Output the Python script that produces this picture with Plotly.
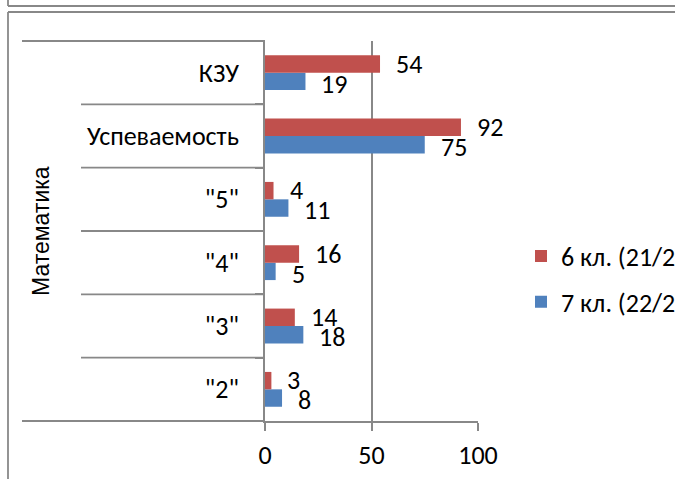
import plotly.graph_objects as go

categories = ['"2"', '"3"', '"4"', '"5"', 'Успеваемость', 'КЗУ']
group_label = 'Математика'
series_names = ['7 кл. (22/23)', '6 кл. (21/22)']
values_7 = [8, 18, 5, 11, 75, 19]
values_6 = [3, 14, 16, 4, 92, 54]
x_ticks = [0, 50, 100]

colors = {'7': '#4F81BD', '6': '#C0504D'}
FONT = 'Carlito, Lato, sans-serif'
FSIZE = 26
GRAY = '#888888'
LW = 1.8

W, H = 675, 479
L, R, T, B = 265, 478, 41, 421


def px(xp):
    return (xp - L) / (R - L)


def py(yp):
    return (B - yp) / (B - T)


fig = go.Figure()
fig.add_trace(go.Bar(y=categories, x=values_7, orientation='h', name=series_names[0],
                     marker=dict(color=colors['7'], line=dict(width=0)),
                     legendgroup='b', legendrank=2))
fig.add_trace(go.Bar(y=categories, x=values_6, orientation='h', name=series_names[1],
                     marker=dict(color=colors['6'], line=dict(width=0)),
                     legendgroup='a', legendrank=1))

lab_font = dict(family=FONT, size=FSIZE, color='black')
ann = []
for c, v in zip(categories, values_6):
    ann.append(dict(x=v, y=c, xref='x', yref='y', text=str(v), showarrow=False,
                    xanchor='left', yanchor='middle', xshift=14, yshift=9, font=lab_font))
for c, v in zip(categories, values_7):
    ann.append(dict(x=v, y=c, xref='x', yref='y', text=str(v), showarrow=False,
                    xanchor='left', yanchor='middle', xshift=14, yshift=-11, font=lab_font))
ann.append(dict(x=px(41), y=0.5, xref='paper', yref='paper', text=group_label,
                showarrow=False, textangle=-90, xanchor='center', yanchor='middle',
                font=dict(family='Liberation Sans, Arial, sans-serif', size=23, color='black')))

line = dict(color=GRAY, width=LW)
shapes = [
    # outer frames
    dict(type='line', xref='paper', yref='paper', x0=px(8), x1=px(W + 5), y0=py(6), y1=py(6), line=line),
    dict(type='line', xref='paper', yref='paper', x0=px(8), x1=px(8), y0=py(-5), y1=py(6), line=line),
    dict(type='line', xref='paper', yref='paper', x0=px(8), x1=px(W + 5), y0=py(12), y1=py(12), line=line),
    dict(type='line', xref='paper', yref='paper', x0=px(8), x1=px(8), y0=py(12), y1=py(H + 5), line=line),
    # category frame
    dict(type='line', xref='paper', yref='paper', x0=px(22), x1=0, y0=1, y1=1, line=line),
    dict(type='line', xref='paper', yref='paper', x0=px(22), x1=0, y0=0, y1=0, line=line),
]
for i in range(len(categories) - 1):
    shapes.append(dict(type='line', xref='paper', yref='y', x0=px(81), x1=0,
                       y0=i + 0.5, y1=i + 0.5, line=line))

fig.update_layout(
    width=W, height=H, autosize=False,
    margin=dict(l=L, r=W - R, t=T, b=H - B, pad=0, autoexpand=False),
    paper_bgcolor='white', plot_bgcolor='white',
    barmode='group', bargap=0.45, bargroupgap=0,
    font=dict(family=FONT, size=FSIZE, color='black'),
    xaxis=dict(range=[0, 100], tickvals=x_ticks, showgrid=True, gridcolor=GRAY, gridwidth=LW,
               showline=True, linecolor=GRAY, linewidth=LW, zeroline=False,
               ticks='outside', ticklen=8, tickcolor=GRAY, tickwidth=LW,
               ticklabelstandoff=2, tickfont=lab_font, fixedrange=True),
    yaxis=dict(type='category', categoryorder='array', categoryarray=categories,
               showline=True, linecolor=GRAY, linewidth=LW, showgrid=False,
               ticks='outside', ticklen=8, tickcolor=GRAY, tickwidth=LW, tickson='boundaries',
               ticklabelstandoff=19, tickfont=lab_font, fixedrange=True),
    legend=dict(x=px(521), y=py(279), xanchor='left', yanchor='middle',
                font=lab_font, tracegroupgap=9, bgcolor='rgba(0,0,0,0)'),
    annotations=ann, shapes=shapes,
)

fig.write_html('out.html', config={'displayModeBar': False},
               post_script="document.body.style.margin='0';document.body.style.padding='0';"
                           "document.body.style.overflow='hidden';")
